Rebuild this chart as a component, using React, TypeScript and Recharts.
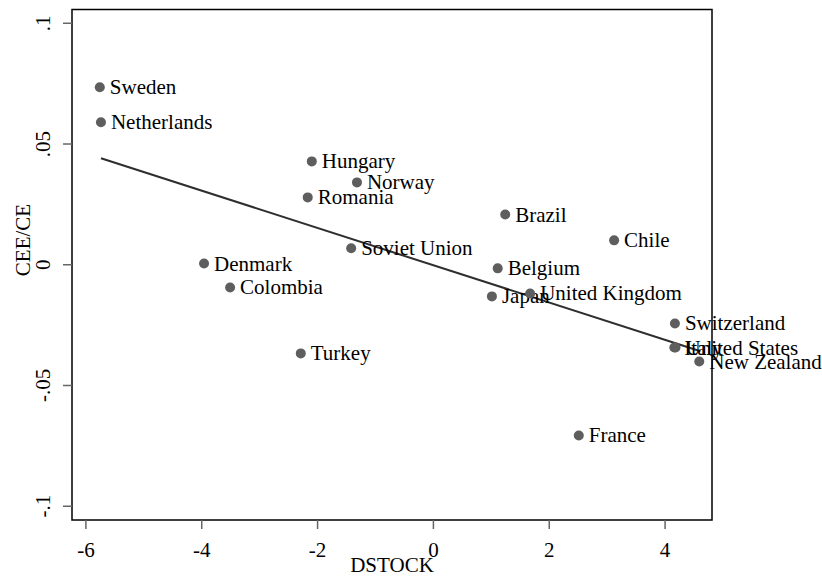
import { ScatterChart, Scatter, XAxis, YAxis, ReferenceArea, Label } from 'recharts';

const countries = [
  'Sweden', 'Netherlands', 'Hungary', 'Norway', 'Romania', 'Brazil', 'Chile',
  'Soviet Union', 'Denmark', 'Belgium', 'Colombia', 'Japan', 'United Kingdom',
  'Switzerland', 'Italy', 'United States', 'New Zealand', 'Turkey', 'France',
];
const dstock = [
  -5.76, -5.74, -2.10, -1.32, -2.17, 1.24, 3.12,
  -1.42, -3.96, 1.11, -3.51, 1.01, 1.67,
  4.17, 4.16, 4.18, 4.59, -2.29, 2.51,
];
const ceeCe = [
  0.0735, 0.0590, 0.0428, 0.0341, 0.0279, 0.0208, 0.0101,
  0.0068, 0.0005, -0.0015, -0.0094, -0.0131, -0.0119,
  -0.0243, -0.0343, -0.0343, -0.0401, -0.0367, -0.0707,
];

// fitted line endpoints (at min and max DSTOCK)
const fitX = [-5.74, 4.61];
const fitY = [0.0441, -0.0358];

const xTicks = [-6, -4, -2, 0, 2, 4];
const yTicks = [-0.1, -0.05, 0, 0.05, 0.1];
const yTickLabels = ['-.1', '-.05', '0', '.05', '.1'];

const xDomain: [number, number] = [-6.24, 4.81];
const yDomain: [number, number] = [-0.1057, 0.1057];

const points = countries.map((name, i) => ({ name, x: dstock[i], y: ceeCe[i] }));
const fit = fitX.map((x, i) => ({ x, y: fitY[i] }));

const FONT = '"Liberation Serif", "Times New Roman", serif';
const FS = 21;

function Marker(props: any) {
  const { cx, cy, payload } = props;
  return (
    <g>
      <circle cx={cx} cy={cy} r={5} fill="#5e5e5e" />
      <text x={cx + 10} y={cy + 7} style={{ fontFamily: FONT }} fontSize={FS} fill="#000">
        {payload.name}
      </text>
    </g>
  );
}

function XTick({ x, y, payload }: any) {
  return (
    <text x={x} y={y + 26} textAnchor="middle" style={{ fontFamily: FONT }} fontSize={FS} fill="#000">
      {payload.value}
    </text>
  );
}

function YTick({ x, y, payload }: any) {
  const idx = yTicks.findIndex((t) => Math.abs(t - payload.value) < 1e-9);
  const bx = x - 11;
  return (
    <text
      x={bx}
      y={y}
      transform={`rotate(-90 ${bx} ${y})`}
      textAnchor="middle"
      style={{ fontFamily: FONT }}
      fontSize={FS}
      fill="#000"
    >
      {yTickLabels[idx]}
    </text>
  );
}

export default function App() {
  return (
    <div style={{ position: 'absolute', left: 0, top: 0, background: '#fff' }}>
      <ScatterChart width={822} height={577} margin={{ top: 9.5, right: 110, bottom: 0, left: 0 }}>
        <ReferenceArea
          x1={xDomain[0]}
          x2={xDomain[1]}
          y1={yDomain[0]}
          y2={yDomain[1]}
          fill="none"
          stroke="#000"
          strokeWidth={1.5}
          ifOverflow="visible"
        />
        <XAxis
          type="number"
          dataKey="x"
          domain={xDomain}
          ticks={xTicks}
          height={57}
          axisLine={false}
          tickSize={9}
          tickLine={{ stroke: '#666', strokeWidth: 1.5 }}
          tick={<XTick />}
        >
          <Label
            content={({ viewBox }: any) => (
              <text
                x={viewBox.x + viewBox.width / 2}
                y={viewBox.y + 52}
                textAnchor="middle"
                style={{ fontFamily: FONT }}
                fontSize={FS}
                fill="#000"
              >
                DSTOCK
              </text>
            )}
          />
        </XAxis>
        <YAxis
          type="number"
          dataKey="y"
          domain={yDomain}
          ticks={yTicks}
          width={72}
          axisLine={false}
          tickSize={9}
          tickLine={{ stroke: '#666', strokeWidth: 1.5 }}
          tick={<YTick />}
        >
          <Label
            content={() => (
              <text
                x={30}
                y={240}
                transform="rotate(-90 30 240)"
                textAnchor="middle"
                style={{ fontFamily: FONT }}
                fontSize={FS}
                fill="#000"
              >
                CEE/CE
              </text>
            )}
          />
        </YAxis>
        <Scatter
          data={fit}
          line={{ stroke: '#2e2e2e', strokeWidth: 2 }}
          shape={() => <g />}
          isAnimationActive={false}
        />
        <Scatter data={points} shape={<Marker />} isAnimationActive={false} />
      </ScatterChart>
    </div>
  );
}
